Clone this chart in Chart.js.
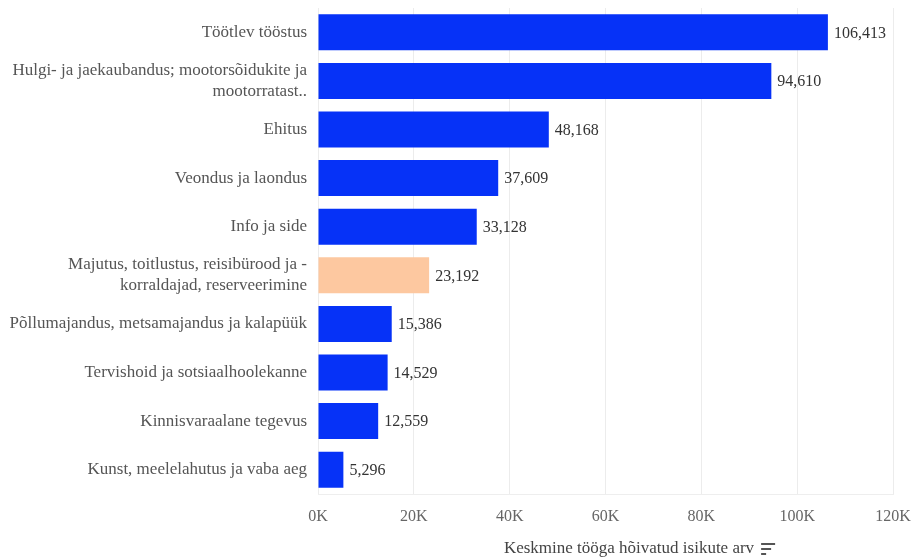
<!DOCTYPE html>
<html>
<head>
  <meta charset="utf-8">
  <title>Keskmine tööga hõivatud isikute arv</title>
  <style>
    body { margin: 0; background: #fff; }
    #wrap { width: 916px; height: 560px; }
  </style>
</head>
<body>
  <div id="wrap"><canvas id="mychart" width="916" height="560"></canvas></div>

  <script src="https://cdn.jsdelivr.net/npm/chart.js"></script>
  <script>
    // andmed
    const categories = [
      'Töötlev tööstus',
      ['Hulgi- ja jaekaubandus; mootorsõidukite ja', 'mootorratast..'],
      'Ehitus',
      'Veondus ja laondus',
      'Info ja side',
      ['Majutus, toitlustus, reisibürood ja -', 'korraldajad, reserveerimine'],
      'Põllumajandus, metsamajandus ja kalapüük',
      'Tervishoid ja sotsiaalhoolekanne',
      'Kinnisvaraalane tegevus',
      'Kunst, meelelahutus ja vaba aeg'
    ];
    const values = [106413, 94610, 48168, 37609, 33128, 23192, 15386, 14529, 12559, 5296];
    const highlighted = [false, false, false, false, false, true, false, false, false, false];
    const xTicks = [0, 20000, 40000, 60000, 80000, 100000, 120000];
    const axisTitle = 'Keskmine tööga hõivatud isikute arv';

    const FONT = '"Liberation Serif", "Times New Roman", serif';

    // väärtused tulpade otsa
    const valueLabels = {
      id: 'valueLabels',
      afterDatasetsDraw(chart) {
        const ctx = chart.ctx;
        const meta = chart.getDatasetMeta(0);
        ctx.save();
        ctx.font = '16px ' + FONT;
        ctx.fillStyle = '#333';
        ctx.textAlign = 'left';
        ctx.textBaseline = 'middle';
        meta.data.forEach((bar, i) => {
          ctx.fillText(values[i].toLocaleString('en-US'), bar.x + 6, bar.y + 1);
        });
        ctx.restore();
      }
    };

    // x-telje pealkiri + sortimise ikoon
    const axisTitlePlugin = {
      id: 'axisTitlePlugin',
      afterDraw(chart) {
        const ctx = chart.ctx;
        ctx.save();
        ctx.font = '17px ' + FONT;
        ctx.fillStyle = '#444';
        ctx.textAlign = 'center';
        ctx.textBaseline = 'middle';
        const cx = 629, cy = 549;
        ctx.fillText(axisTitle, cx, cy);
        const w = ctx.measureText(axisTitle).width;
        const ix = cx + w / 2 + 7;
        ctx.strokeStyle = '#555';
        ctx.lineWidth = 2;
        [[14, -5], [10, 0], [5, 5]].forEach(([len, dy]) => {
          ctx.beginPath();
          ctx.moveTo(ix, cy + dy);
          ctx.lineTo(ix + len, cy + dy);
          ctx.stroke();
        });
        ctx.restore();
      }
    };

    const ctx = document.getElementById('mychart').getContext('2d');
    new Chart(ctx, {
      type: 'bar',
      data: {
        labels: categories,
        datasets: [{
          data: values,
          backgroundColor: highlighted.map(h => h ? '#fdc8a0' : '#0632f7'),
          categoryPercentage: 1,
          barPercentage: 0.74
        }]
      },
      options: {
        indexAxis: 'y',
        responsive: false,
        animation: false,
        layout: { padding: { top: 8, right: 23, left: 0, bottom: 0 } },
        plugins: {
          legend: { display: false },
          tooltip: { enabled: false }
        },
        scales: {
          x: {
            min: 0,
            max: 120000,
            afterBuildTicks(scale) {
              scale.ticks = xTicks.map(v => ({ value: v }));
            },
            afterFit(scale) {
              scale.height = 66;
              scale.paddingLeft = 0;
              scale.paddingRight = 0;
            },
            grid: { color: '#ececec', drawTicks: false },
            border: { display: true, color: '#eeeeee' },
            ticks: {
              padding: 13,
              color: '#666',
              font: { family: FONT, size: 16 },
              callback: v => (v / 1000) + 'K'
            }
          },
          y: {
            afterFit(scale) {
              scale.width = 318;
              scale.paddingTop = 0;
              scale.paddingBottom = 0;
            },
            grid: { display: false },
            border: { display: false },
            ticks: {
              padding: 3,
              color: '#555',
              font: { family: FONT, size: 17, lineHeight: 1.25 }
            }
          }
        }
      },
      plugins: [valueLabels, axisTitlePlugin]
    });
  </script>
</body>
</html>
